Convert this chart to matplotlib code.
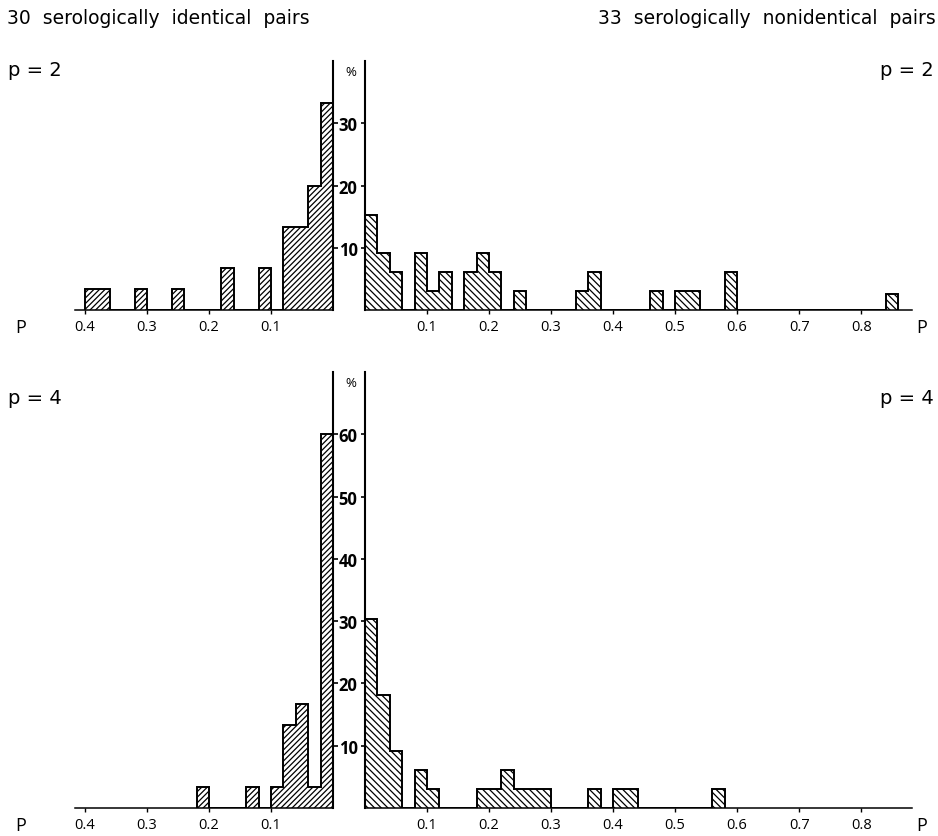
import matplotlib.pyplot as plt
import numpy as np

plt.rcParams['font.family'] = ['Open Sans', 'DejaVu Sans']
plt.rcParams['hatch.linewidth'] = 0.9

W, H = 938, 837
BIN = 0.02

# lower edge of each non-empty bin (P) and percent of pairs in it
ident_p2_bins = [0.00, 0.02, 0.04, 0.06, 0.10, 0.16, 0.24, 0.30, 0.36, 0.38]
ident_p2_pct = [33.3, 20.0, 13.3, 13.3, 6.7, 6.7, 3.3, 3.3, 3.3, 3.3]
nonid_p2_bins = [0.00, 0.02, 0.04, 0.08, 0.10, 0.12, 0.16, 0.18, 0.20,
                 0.24, 0.34, 0.36, 0.46, 0.50, 0.52, 0.58, 0.84]
nonid_p2_pct = [15.2, 9.1, 6.1, 9.1, 3.0, 6.1, 6.1, 9.1, 6.1,
                3.0, 3.0, 6.1, 3.0, 3.0, 3.0, 6.1, 2.6]
ident_p4_bins = [0.00, 0.02, 0.04, 0.06, 0.08, 0.12, 0.20]
ident_p4_pct = [60.0, 3.3, 16.7, 13.3, 3.3, 3.3, 3.3]
nonid_p4_bins = [0.00, 0.02, 0.04, 0.08, 0.10, 0.18, 0.20, 0.22, 0.24,
                 0.26, 0.28, 0.36, 0.40, 0.42, 0.56]
nonid_p4_pct = [30.3, 18.2, 9.1, 6.1, 3.0, 3.0, 3.0, 6.1, 3.0,
                3.0, 3.0, 3.0, 3.0, 3.0, 3.0]

left_ticks = [0.1, 0.2, 0.3, 0.4]
right_ticks = [0.1, 0.2, 0.3, 0.4, 0.5, 0.6, 0.7, 0.8]

fig = plt.figure(figsize=(W / 100, H / 100), dpi=100)


def px(x, y):
    return x / W, 1 - y / H


def add_ax(x0, x1, y0, y1):
    return fig.add_axes([x0 / W, 1 - y1 / H, (x1 - x0) / W, (y1 - y0) / H])


def steps(bins, pct):
    n = int(round(max(bins) / BIN)) + 1
    vals = np.zeros(n)
    for b, v in zip(bins, pct):
        vals[int(round(b / BIN))] = v
    edges = np.arange(n + 1) * BIN
    return vals, edges


def panel(y_top, y_base, ymax, yticks, ident, nonid):
    axl = add_ax(75, 333, y_top, y_base)
    axr = add_ax(365, 912, y_top, y_base)

    vals, edges = steps(*ident)
    axl.stairs(vals, edges, fill=True, facecolor='white', edgecolor='black',
               hatch='//////', linewidth=1.4)
    vals, edges = steps(*nonid)
    axr.stairs(vals, edges, fill=True, facecolor='white', edgecolor='black',
               hatch='\\\\\\\\\\', linewidth=1.4)

    axl.set_xlim(0.416, 0)
    axr.set_xlim(0, 0.882)
    for ax in (axl, axr):
        ax.set_ylim(0, ymax)
        ax.spines['top'].set_visible(False)
        ax.patch.set_alpha(0)
    axl.spines['left'].set_visible(False)
    axr.spines['right'].set_visible(False)
    axl.spines['right'].set_linewidth(1.5)
    axr.spines['left'].set_linewidth(1.5)
    axl.spines['bottom'].set_linewidth(1.1)
    axr.spines['bottom'].set_linewidth(1.1)

    axl.yaxis.tick_right()
    axl.set_yticks(yticks, [str(t) for t in yticks], fontweight='bold')
    axl.tick_params(axis='y', direction='out', length=3.5, width=1.2,
                    labelsize=12, pad=0.5)
    axr.set_yticks(yticks, [])
    axr.tick_params(axis='y', direction='out', length=3, width=1.2)

    axl.set_xticks(left_ticks, [f'{t:.1f}' for t in left_ticks])
    axr.set_xticks(right_ticks, [f'{t:.1f}' for t in right_ticks])
    for ax in (axl, axr):
        ax.tick_params(axis='x', direction='out', length=3, width=1,
                       labelsize=10.5, pad=3.5)

    fig.text(*px(351, y_top + 11), '%', fontsize=9.5, ha='center', va='center')
    fig.text(*px(21, y_base + 17), 'P', fontsize=13, ha='center', va='center')
    fig.text(*px(922, y_base + 17), 'P', fontsize=13, ha='center', va='center')


panel(62, 311, 40, [10, 20, 30],
      (ident_p2_bins, ident_p2_pct), (nonid_p2_bins, nonid_p2_pct))
panel(373, 809, 70, [10, 20, 30, 40, 50, 60],
      (ident_p4_bins, ident_p4_pct), (nonid_p4_bins, nonid_p4_pct))

title_font = ['DejaVu Sans']
fig.text(*px(7, 19), '30  serologically  identical  pairs', fontsize=13.5,
         family=title_font, ha='left', va='center')
fig.text(*px(936, 19), '33  serologically  nonidentical  pairs', fontsize=13.5,
         family=title_font, ha='right', va='center')
fig.text(*px(8, 71), 'p = 2', fontsize=14, family=title_font,
         ha='left', va='center')
fig.text(*px(934, 71), 'p = 2', fontsize=14, family=title_font,
         ha='right', va='center')
fig.text(*px(8, 399), 'p = 4', fontsize=14, family=title_font,
         ha='left', va='center')
fig.text(*px(934, 399), 'p = 4', fontsize=14, family=title_font,
         ha='right', va='center')

fig.savefig('out.png', dpi=100)
